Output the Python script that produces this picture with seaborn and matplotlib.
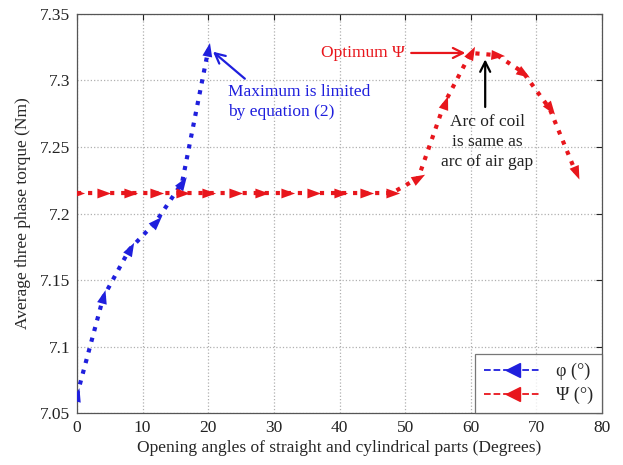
import numpy as np
import pandas as pd
import matplotlib
matplotlib.use("Agg")
import matplotlib.pyplot as plt
import seaborn as sns
from matplotlib.lines import Line2D
from matplotlib.markers import MarkerStyle
from matplotlib.path import Path
from matplotlib.transforms import Affine2D

phi_x = [0, 4, 8, 12, 16, 20]
phi_y = [7.0635, 7.137, 7.173, 7.1936, 7.223, 7.323]
psi_x = [0, 4, 8, 12, 16, 20, 24, 28, 32, 36, 40, 44, 48, 52, 56, 60, 64, 68, 72, 76]
psi_y = [7.2154] * 13 + [7.2267, 7.283, 7.3207, 7.319, 7.306, 7.279, 7.231]
x_ticks = [0, 10, 20, 30, 40, 50, 60, 70, 80]
y_ticks = [7.05, 7.1, 7.15, 7.2, 7.25, 7.3, 7.35]
legend_labels = ["φ (°)", "Ψ (°)"]

sns.set_style("white")
plt.rcParams['font.family'] = ['Liberation Serif', 'DejaVu Serif']

fig = plt.figure(figsize=(6.23, 4.65), dpi=100)
ax = fig.add_axes([0.1236, 0.1118, 0.8427, 0.8581])

df = pd.concat([
    pd.DataFrame({"x": phi_x, "y": phi_y, "s": legend_labels[0]}),
    pd.DataFrame({"x": psi_x, "y": psi_y, "s": legend_labels[1]}),
])
colors = {legend_labels[0]: "#1f1fdd", legend_labels[1]: "#e8161c"}
sns.lineplot(data=df, x="x", y="y", hue="s", palette=colors, ax=ax,
             linestyle=":", linewidth=3.0, legend=False, sort=False)

ax.set_xlim(0, 80)
ax.set_ylim(7.05, 7.35)
ax.set_xticks(x_ticks)
ax.set_yticks(y_ticks)
ax.set_yticklabels(["7.05", "7.1", "7.15", "7.2", "7.25", "7.3", "7.35"])
fig.canvas.draw()

head = Path([(1.0, 0.0), (-0.8, 0.65), (-0.8, -0.65), (1.0, 0.0)],
            [Path.MOVETO, Path.LINETO, Path.LINETO, Path.CLOSEPOLY])

def arrow_markers(xs, ys, color):
    pts = ax.transData.transform(np.column_stack([xs, ys]))
    for i in range(len(xs)):
        if i == 0:
            d = pts[1] - pts[0]
        else:
            d = pts[i] - pts[i - 1]
        ang = np.degrees(np.arctan2(d[1], d[0]))
        m = MarkerStyle(head, transform=Affine2D().rotate_deg(ang))
        ax.scatter([xs[i]], [ys[i]], marker=m, s=120, color=color, zorder=5, linewidths=0)

arrow_markers(phi_x, phi_y, colors[legend_labels[0]])
arrow_markers(psi_x, psi_y, colors[legend_labels[1]])

ax.grid(True, color="#b0b0b0", linestyle=":", linewidth=0.9)
for sp in ax.spines.values():
    sp.set_color("#555555")
    sp.set_linewidth(0.9)
ax.tick_params(direction="in", length=4, top=True, right=True, labelsize=12.5,
               colors="#222222", pad=5)
ax.set_xlabel("Opening angles of straight and cylindrical parts (Degrees)", fontsize=12.5, labelpad=3)
ax.set_ylabel("Average three phase torque (Nm)", fontsize=12.5, labelpad=6)

ax.annotate("", xy=(20.4, 7.323), xytext=(25.9, 7.300),
            arrowprops=dict(arrowstyle="->", color=colors[legend_labels[0]], lw=1.6, mutation_scale=18))
ax.text(23.0, 7.297, "Maximum is limited\nby equation (2)", color=colors[legend_labels[0]],
        fontsize=12.5, ha="left", va="top", linespacing=1.3)

ax.annotate("", xy=(59.6, 7.3207), xytext=(50.5, 7.3207),
            arrowprops=dict(arrowstyle="->", color=colors[legend_labels[1]], lw=1.6, mutation_scale=18))
ax.text(50.0, 7.3207, "Optimum Ψ", color=colors[legend_labels[1]], fontsize=12.5,
        ha="right", va="center")

ax.annotate("", xy=(62.2, 7.318), xytext=(62.2, 7.278),
            arrowprops=dict(arrowstyle="->", color="black", lw=1.6, mutation_scale=18))
ax.text(62.5, 7.2745, "Arc of coil\nis same as\narc of air gap", color="#222222",
        fontsize=12.5, ha="center", va="top", linespacing=1.3)

handles = [Line2D([], [], color=colors[l], linestyle="--", marker="<", markersize=10, lw=1.3)
           for l in legend_labels]
leg = ax.legend(handles, legend_labels, loc="lower right", fontsize=13, frameon=True,
                fancybox=False, edgecolor="#555555", borderaxespad=0.0, handlelength=3.2,
                borderpad=0.5, labelspacing=0.35)
leg.get_frame().set_linewidth(0.9)

fig.savefig("out.png", dpi=100)
